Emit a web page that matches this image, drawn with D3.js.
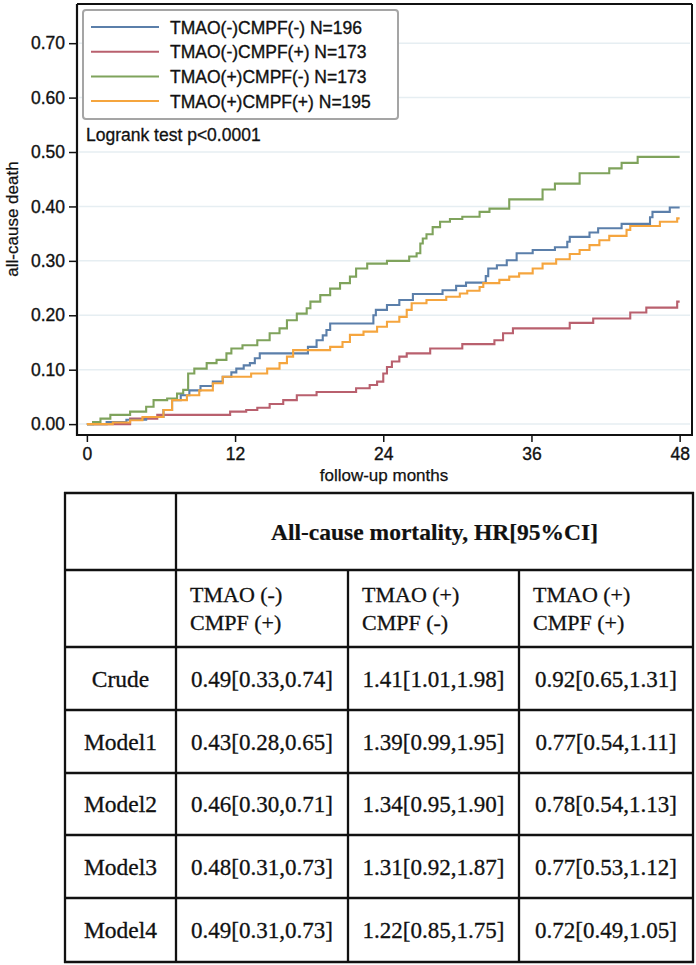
<!DOCTYPE html>
<html><head><meta charset="utf-8">
<script src="https://cdn.jsdelivr.net/npm/d3@7"></script>
<style>body{margin:0;background:#fff}svg{display:block}</style>
</head><body>
<script>
// ---------- DATA ----------
const seriesNames = ["TMAO(-)CMPF(-) N=196","TMAO(-)CMPF(+) N=173","TMAO(+)CMPF(-) N=173","TMAO(+)CMPF(+) N=195"];
const seriesColors = ["#5b7faa","#b9606e","#7fa35c","#f5a53e"];

const tBlue = [0,1.6,3.2,4.8,6.2,6.9,7.6,8.3,9.2,10.2,11.0,11.7,12.1,12.7,13.2,13.6,14.0,17.9,18.6,19.1,19.4,19.7,23.2,23.4,24.3,25.3,26.4,28.8,29.9,30.7,32.3,32.5,33.2,34.0,34.8,36.1,37.9,38.9,39.1,40.7,41.4,43.3,45.6,45.8,47.2,48.0];
const vBlue = [0,0.004,0.008,0.013,0.026,0.044,0.053,0.062,0.070,0.078,0.087,0.095,0.102,0.108,0.112,0.121,0.130,0.142,0.154,0.163,0.173,0.185,0.200,0.210,0.219,0.228,0.239,0.246,0.254,0.260,0.272,0.286,0.292,0.301,0.314,0.320,0.325,0.335,0.344,0.352,0.360,0.368,0.380,0.390,0.398,0.398];

const tRed = [0,3.5,5.7,11.6,12.9,13.8,14.8,15.9,17.0,18.6,21.8,22.9,23.5,24.0,24.3,24.7,25.3,25.9,27.8,30.4,33.0,33.7,34.5,39.1,41.0,44.0,45.3,47.8,48.0];
const vRed = [0,0.010,0.017,0.023,0.026,0.030,0.037,0.044,0.053,0.059,0.066,0.072,0.078,0.093,0.105,0.115,0.124,0.130,0.139,0.147,0.154,0.167,0.176,0.186,0.194,0.205,0.214,0.225,0.225];

const tGreen = [0,0.5,1.1,1.9,3.5,4.8,5.4,6.5,7.3,7.8,8.2,8.7,9.7,10.5,11.3,11.7,12.6,13.8,14.8,15.6,16.2,17.0,17.8,18.1,18.9,19.7,20.5,21.3,21.8,22.7,24.3,26.1,26.7,27.0,27.2,27.5,28.0,28.6,29.4,30.4,31.8,32.6,34.2,36.9,37.9,39.9,42.3,43.3,44.6,48.0];
const vGreen = [0,0.004,0.010,0.017,0.023,0.032,0.044,0.047,0.056,0.063,0.093,0.102,0.112,0.118,0.130,0.139,0.145,0.154,0.167,0.176,0.191,0.203,0.213,0.225,0.237,0.249,0.259,0.271,0.286,0.295,0.300,0.308,0.314,0.332,0.341,0.349,0.362,0.372,0.377,0.381,0.390,0.396,0.413,0.431,0.442,0.461,0.470,0.480,0.491,0.491];

const tOrange = [0,2.1,3.5,4.5,6.2,6.9,8.1,9.1,10.2,11.0,13.3,14.6,15.6,16.2,16.7,19.7,20.7,21.3,22.4,23.5,24.3,25.3,25.9,26.3,27.5,29.1,30.2,30.8,31.8,32.1,33.4,34.2,35.0,36.1,36.9,38.0,39.1,39.9,40.7,41.5,42.3,43.7,44.0,46.4,47.8,48.0];
const vOrange = [0,0.003,0.007,0.013,0.026,0.044,0.053,0.062,0.075,0.087,0.093,0.102,0.112,0.124,0.136,0.142,0.151,0.164,0.170,0.179,0.188,0.197,0.210,0.222,0.228,0.234,0.240,0.245,0.252,0.259,0.265,0.271,0.277,0.286,0.295,0.303,0.3125,0.320,0.329,0.338,0.346,0.357,0.364,0.372,0.378,0.378];

const xTicks = [0,12,24,36,48];
const yTicks = [0,0.1,0.2,0.3,0.4,0.5,0.6,0.7];
const logrankText = "Logrank test p<0.0001";
const xTitle = "follow-up months";
const yTitle = "all-cause death";

// table
const tableTitle = "All-cause mortality, HR[95%CI]";
const groupHeaders = [["TMAO (-)","CMPF (+)"],["TMAO (+)","CMPF (-)"],["TMAO (+)","CMPF (+)"]];
const rowLabels = ["Crude","Model1","Model2","Model3","Model4"];
const hrCol1 = ["0.49[0.33,0.74]","0.43[0.28,0.65]","0.46[0.30,0.71]","0.48[0.31,0.73]","0.49[0.31,0.73]"];
const hrCol2 = ["1.41[1.01,1.98]","1.39[0.99,1.95]","1.34[0.95,1.90]","1.31[0.92,1.87]","1.22[0.85,1.75]"];
const hrCol3 = ["0.92[0.65,1.31]","0.77[0.54,1.11]","0.78[0.54,1.13]","0.77[0.53,1.12]","0.72[0.49,1.05]"];

// ---------- DRAW ----------
const W = 696, H = 965;
const svg = d3.select("body").append("svg").attr("width", W).attr("height", H);
const sans = "'Liberation Sans', Arial, Helvetica, sans-serif";
const serif = "'Liberation Serif', 'Times New Roman', serif";
const ink = "#111";

const x = d3.scaleLinear().domain([-0.8, 49]).range([77, 692]);
const y = d3.scaleLinear().domain([-0.02, 0.772]).range([435, 4]);

function heavy(sel, w) { return sel.attr("stroke", ink).attr("stroke-width", w).attr("paint-order", "stroke"); }

// gridlines
svg.append("g").selectAll("line").data(yTicks).join("line")
  .attr("x1", 79).attr("x2", 690)
  .attr("y1", d => y(d)).attr("y2", d => y(d))
  .attr("stroke", "#e6eef2").attr("stroke-width", 1.5);

// frame top/right
svg.append("line").attr("x1", 77).attr("x2", 692).attr("y1", 4).attr("y2", 4).attr("stroke", ink).attr("stroke-width", 2);
svg.append("line").attr("x1", 692).attr("x2", 692).attr("y1", 4).attr("y2", 435).attr("stroke", ink).attr("stroke-width", 2);

// axes
const yAxis = d3.axisLeft(y).tickValues(yTicks).tickFormat(d3.format(".2f")).tickSize(8).tickPadding(4);
const gy = svg.append("g").attr("transform", "translate(77,0)").call(yAxis);
gy.select(".domain").remove();
svg.append("line").attr("x1", 77).attr("x2", 77).attr("y1", 4).attr("y2", 436).attr("stroke", ink).attr("stroke-width", 2.2);
gy.selectAll(".tick line").attr("stroke", ink).attr("stroke-width", 1.5);
heavy(gy.selectAll(".tick text").attr("font-family", sans).attr("font-size", 17.5).attr("fill", ink), 0.35);

const xAxis = d3.axisBottom(x).tickValues(xTicks).tickFormat(d3.format("d")).tickSize(7).tickPadding(6);
const gx = svg.append("g").attr("transform", "translate(0,435)").call(xAxis);
gx.select(".domain").remove();
svg.append("line").attr("x1", 76).attr("x2", 693).attr("y1", 435).attr("y2", 435).attr("stroke", ink).attr("stroke-width", 2.2);
gx.selectAll(".tick line").attr("stroke", ink).attr("stroke-width", 1.5);
heavy(gx.selectAll(".tick text").attr("font-family", sans).attr("font-size", 17.5).attr("fill", ink), 0.35);

// axis titles
heavy(svg.append("text").attr("x", 384).attr("y", 481).attr("text-anchor", "middle")
  .attr("font-family", sans).attr("font-size", 17).attr("fill", ink).text(xTitle), 0.25);
heavy(svg.append("text").attr("transform", "translate(18,219) rotate(-90)").attr("text-anchor", "middle")
  .attr("font-family", sans).attr("font-size", 17).attr("fill", ink).text(yTitle), 0.25);

// curves
const series = [
  {t: tBlue, v: vBlue},
  {t: tRed, v: vRed},
  {t: tGreen, v: vGreen},
  {t: tOrange, v: vOrange}
];
const line = d3.line().x(d => x(d[0])).y(d => y(d[1])).curve(d3.curveStepAfter);
[1,2,0,3].forEach(i => {
  const pts = series[i].t.map((t, k) => [t, series[i].v[k]]);
  svg.append("path").datum(pts).attr("d", line)
    .attr("fill", "none").attr("stroke", seriesColors[i]).attr("stroke-width", 2.1);
});

// legend
svg.append("rect").attr("x", 83).attr("y", 10).attr("width", 315).attr("height", 109).attr("rx", 3)
  .attr("fill", "#fff").attr("stroke", "#a5a5a5").attr("stroke-width", 2);
const lg = svg.append("g").selectAll("g").data(seriesNames).join("g")
  .attr("transform", (d, i) => `translate(0,${27 + i * 24.7})`);
lg.append("line").attr("x1", 91).attr("x2", 159).attr("y1", 0).attr("y2", 0)
  .attr("stroke", (d, i) => seriesColors[i]).attr("stroke-width", 2);
heavy(lg.append("text").attr("x", 170).attr("y", 6.5).attr("font-family", sans).attr("font-size", 17.5)
  .attr("fill", ink).text(d => d), 0.35);

heavy(svg.append("text").attr("x", 86).attr("y", 141).attr("font-family", sans).attr("font-size", 17.5)
  .attr("fill", ink).text(logrankText), 0.3);

// ---------- TABLE ----------
const colX = [65, 176, 348, 519, 693];
const rowY = [493, 570, 647, 710, 773, 835, 898, 962];
const tg = svg.append("g");
const lw = 2.3;
rowY.forEach(ry => {
  tg.append("line").attr("x1", colX[0] - 1).attr("x2", colX[4] + 1).attr("y1", ry).attr("y2", ry)
    .attr("stroke", ink).attr("stroke-width", lw);
});
[0, 1, 4].forEach(ci => {
  tg.append("line").attr("x1", colX[ci]).attr("x2", colX[ci]).attr("y1", rowY[0] - 1).attr("y2", rowY[7] + 1)
    .attr("stroke", ink).attr("stroke-width", lw);
});
[2, 3].forEach(ci => {
  tg.append("line").attr("x1", colX[ci]).attr("x2", colX[ci]).attr("y1", rowY[1]).attr("y2", rowY[7] + 1)
    .attr("stroke", ink).attr("stroke-width", lw);
});
heavy(tg.append("text").attr("x", (colX[1] + colX[4]) / 2).attr("y", (rowY[0] + rowY[1]) / 2).attr("dy", "0.35em")
  .attr("text-anchor", "middle").attr("font-family", serif).attr("font-weight", "bold").attr("font-size", 23.5)
  .attr("fill", ink).text(tableTitle), 0.2);
groupHeaders.forEach((gh, ci) => {
  gh.forEach((s, li) => {
    heavy(tg.append("text").attr("x", colX[ci + 1] + 14).attr("y", 594 + li * 28).attr("dy", "0.35em")
      .attr("font-family", serif).attr("font-size", 22).attr("fill", ink).text(s), 0.3);
  });
});
const hrCols = [hrCol1, hrCol2, hrCol3];
rowLabels.forEach((rl, ri) => {
  const cy = (rowY[ri + 2] + rowY[ri + 3]) / 2;
  heavy(tg.append("text").attr("x", (colX[0] + colX[1]) / 2).attr("y", cy).attr("dy", "0.35em")
    .attr("text-anchor", "middle").attr("font-family", serif).attr("font-size", 23.5).attr("fill", ink).text(rl), 0.3);
  hrCols.forEach((col, ci) => {
    heavy(tg.append("text").attr("x", (colX[ci + 1] + colX[ci + 2]) / 2).attr("y", cy).attr("dy", "0.35em")
      .attr("text-anchor", "middle").attr("font-family", serif).attr("font-size", 23).attr("fill", ink).text(col[ri]), 0.3);
  });
});
</script>
</body></html>
